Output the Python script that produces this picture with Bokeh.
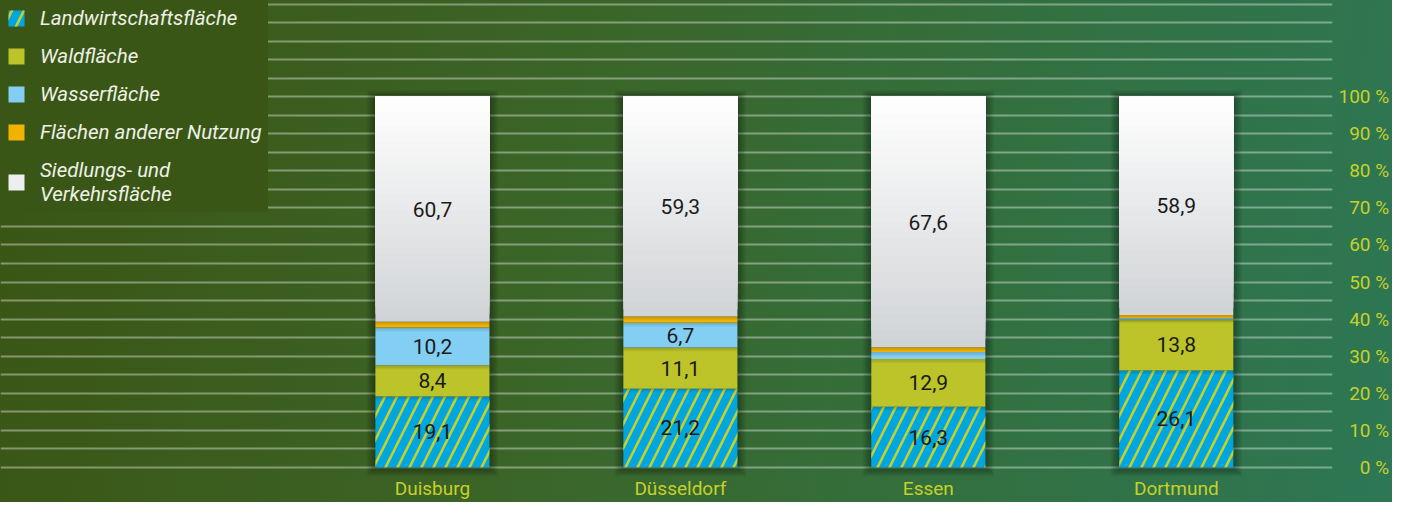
import numpy as np
from bokeh.plotting import figure
from bokeh.models import Range1d, FixedTicker, Legend, LegendItem, ColumnDataSource
from bokeh.embed import file_html
from bokeh.resources import INLINE
from bokeh.core.properties import value

# ---------------- data ----------------
cities = ["Duisburg", "Düsseldorf", "Essen", "Dortmund"]
landw = [19.1, 21.2, 16.3, 26.1]
wald = [8.4, 11.1, 12.9, 13.8]
wasser = [10.2, 6.7, 1.9, 0.4]
andere = [1.6, 1.7, 1.3, 0.8]
siedlung = [60.7, 59.3, 67.6, 58.9]
series_names = ["Landwirtschaftsfläche", "Waldfläche", "Wasserfläche",
                "Flächen anderer Nutzung", "Siedlungs- und\nVerkehrsfläche"]
y_ticks = [0, 10, 20, 30, 40, 50, 60, 70, 80, 90, 100]
y_tick_labels = ["\u2007\u20070 %", "\u200710 %", "\u200720 %", "\u200730 %", "\u200740 %",
                 "\u200750 %", "\u200760 %", "\u200770 %", "\u200780 %", "\u200790 %", "100 %"]
grid_ticks = list(range(0, 130, 5))

# ---------------- style ----------------
FONT = "Roboto"
ACCENT = "#c6d02a"
BAR_W = 0.46

p = figure(width=1392, height=502, output_backend="svg", toolbar_location=None,
           x_range=Range1d(-1.742, 3.630), y_range=Range1d(-2.5, 126.0),
           y_axis_location="right",
           min_border_left=0, min_border_top=0, min_border_right=57, min_border_bottom=23)
p.background_fill_alpha = 0
p.border_fill_alpha = 0
p.outline_line_alpha = 0
p.styles = {"background": "linear-gradient(100deg, #3a5514 0%, #3b6528 40%, #33703f 70%, #2d7755 100%)"}

# grid
p.xgrid.visible = False
p.ygrid.ticker = FixedTicker(ticks=grid_ticks)
p.ygrid.grid_line_color = "#ffffff"
p.ygrid.grid_line_alpha = 0.38
p.ygrid.grid_line_width = 2

# right axis
p.yaxis.ticker = FixedTicker(ticks=y_ticks)
p.yaxis.major_label_overrides = {t: l for t, l in zip(y_ticks, y_tick_labels)}
p.yaxis.axis_line_color = None
p.yaxis.major_tick_line_color = None
p.yaxis.minor_tick_line_color = None
p.yaxis.major_tick_out = 0
p.yaxis.major_tick_in = 0
p.yaxis.minor_tick_out = 0
p.yaxis.major_label_text_color = ACCENT
p.yaxis.major_label_text_font = FONT
p.yaxis.major_label_text_font_size = "19px"
p.yaxis.major_label_standoff = 6

# bottom axis
xs = np.arange(len(cities))
p.xaxis.ticker = FixedTicker(ticks=list(xs))
p.xaxis.major_label_overrides = {int(i): c for i, c in zip(xs, cities)}
p.xaxis.axis_line_color = None
p.xaxis.major_tick_line_color = None
p.xaxis.minor_tick_line_color = None
p.xaxis.major_tick_out = 0
p.xaxis.major_tick_in = 0
p.xaxis.minor_tick_out = 0
p.xaxis.major_label_text_color = ACCENT
p.xaxis.major_label_text_font = FONT
p.xaxis.major_label_text_font_size = "19px"
p.xaxis.major_label_standoff = 0

# stacks
vals = np.array([landw, wald, wasser, andere, siedlung])
tops = np.cumsum(vals, axis=0)
bots = tops - vals

# soft shadow around bars
for k in range(1, 8):
    p.vbar(x=xs, width=BAR_W + k * 0.010, bottom=bots[0] - k * 0.35, top=tops[-1] + k * 0.25,
           fill_color="black", fill_alpha=0.05, line_color=None)

r_landw = p.vbar(x=xs, width=BAR_W, bottom=bots[0], top=tops[0], fill_color="#00a6e0",
                 line_color=None, hatch_pattern="/", hatch_color="#c6d02a",
                 hatch_weight=2.6, hatch_scale=24)
r_wald = p.vbar(x=xs, width=BAR_W, bottom=bots[1], top=tops[1], fill_color="#bcc42a", line_color=None)
r_wasser = p.vbar(x=xs, width=BAR_W, bottom=bots[2], top=tops[2], fill_color="#82cff3", line_color=None)
r_andere = p.vbar(x=xs, width=BAR_W, bottom=bots[3], top=tops[3], fill_color="#f0b400", line_color=None)

# Siedlung with vertical gradient (grey bottom -> white top), layered to avoid seams
N = 30
c_top = np.array([255, 255, 255])
c_bot = np.array([208, 211, 214])
r_sied_legend = None
for j in range(N):
    f0 = j / N
    b = bots[4] + vals[4] * f0
    mix = (j + 0.5) / N
    col = c_bot + (c_top - c_bot) * mix
    hexcol = "#%02x%02x%02x" % tuple(int(round(v)) for v in col)
    r = p.vbar(x=xs, width=BAR_W, bottom=b, top=tops[4], fill_color=hexcol, line_color=None)
    if j == int(N * 0.6):
        r_sied_legend = r

# subtle inner shadow below each segment boundary
for s in range(1, 5):
    for d in range(3):
        p.vbar(x=xs, width=BAR_W, bottom=tops[s - 1] - 0.35 * (d + 1), top=tops[s - 1],
               fill_color="black", fill_alpha=0.05, line_color=None)

# value labels
lx, ly, lt = [], [], []
for s in range(5):
    for i in range(len(cities)):
        if vals[s][i] >= 5:
            lx.append(xs[i])
            ly.append(bots[s][i] + vals[s][i] / 2)
            lt.append(("%.1f" % vals[s][i]).replace(".", ","))
src = ColumnDataSource(dict(x=lx, y=ly, t=lt))
p.text(x="x", y="y", text="t", source=src, text_align="center", text_baseline="middle",
       text_font=value(FONT), text_font_size="21px", text_color="#1a1a1a")

# legend
items = [LegendItem(label=series_names[0], renderers=[r_landw]),
         LegendItem(label=series_names[1], renderers=[r_wald]),
         LegendItem(label=series_names[2], renderers=[r_wasser]),
         LegendItem(label=series_names[3], renderers=[r_andere]),
         LegendItem(label=series_names[4], renderers=[r_sied_legend])]
legend = Legend(items=items, location="top_left", margin=0, padding=6,
                background_fill_color="#3a5616", background_fill_alpha=1,
                border_line_alpha=0, label_text_font=FONT, label_text_font_style="italic",
                label_text_color="#eef0e6", label_text_font_size="20.5px",
                glyph_width=20, glyph_height=20, label_height=24, label_standoff=14,
                spacing=14)
p.add_layout(legend)

open("out.html", "w").write(file_html(p, INLINE))
